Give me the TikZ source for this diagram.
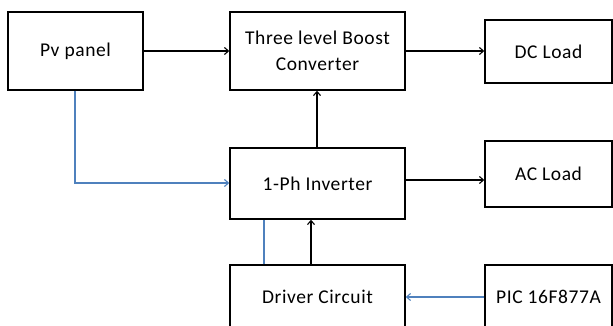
\documentclass[tikz,border=0pt]{standalone}
\usepackage{fontspec}
\setmainfont{Carlito}[LetterSpace=3]
\usetikzlibrary{arrows.meta}
\definecolor{officeblue}{RGB}{79,129,189}
\begin{document}
\begin{tikzpicture}[x=1pt,y=-1pt,
  blk/.style={draw=black,line width=1.5pt,inner sep=0pt,align=center,font=\fontsize{19.5}{26}\selectfont},
  arr/.style={line width=1.5pt,-{Straight Barb[length=4pt,width=7pt,line width=1.1pt]}},
  barr/.style={officeblue,line width=1.5pt,-{Straight Barb[length=4pt,width=7pt,line width=1.1pt]}},
  bline/.style={officeblue,line width=1.5pt}]
\useasboundingbox (0,0) rectangle (613,326);
\node[blk,minimum width=135pt,minimum height=78pt] (pv) at (75.5,51) {Pv panel};
\node[blk,minimum width=175pt,minimum height=78pt] (conv) at (317.5,51) {Three level Boost\\Converter};
\node[blk,minimum width=127pt,minimum height=63pt] (dc) at (548.5,51.5) {DC Load};
\node[blk,minimum width=175pt,minimum height=71pt] (inv) at (317.5,183.5) {1-Ph Inverter};
\node[blk,minimum width=127pt,minimum height=66pt] (ac) at (548.5,174) {AC Load};
\node[blk,minimum width=175pt,minimum height=64pt] (drv) at (317.5,297) {Driver Circuit};
\node[blk,minimum width=127pt,minimum height=64pt] (pic) at (548.5,297) {PIC 16F877A};
\draw[arr] (pv.east) -- (conv.west);
\draw[arr] (conv.east) -- (dc.west |- conv.east);
\draw[arr] (inv.north -| 317,0) -- (conv.south -| 317,0);
\draw[arr] (inv.east |- 0,180) -- (ac.west |- 0,180);
\draw[barr] (pv.south -| 75,0) |- (inv.west |- 0,183);
\draw[arr] (drv.north -| 311,0) -- (inv.south -| 311,0);
\draw[bline] (drv.north -| 264,0) -- (inv.south -| 264,0);
\draw[barr] (pic.west |- 0,297) -- (drv.east |- 0,297);
\end{tikzpicture}
\end{document}
